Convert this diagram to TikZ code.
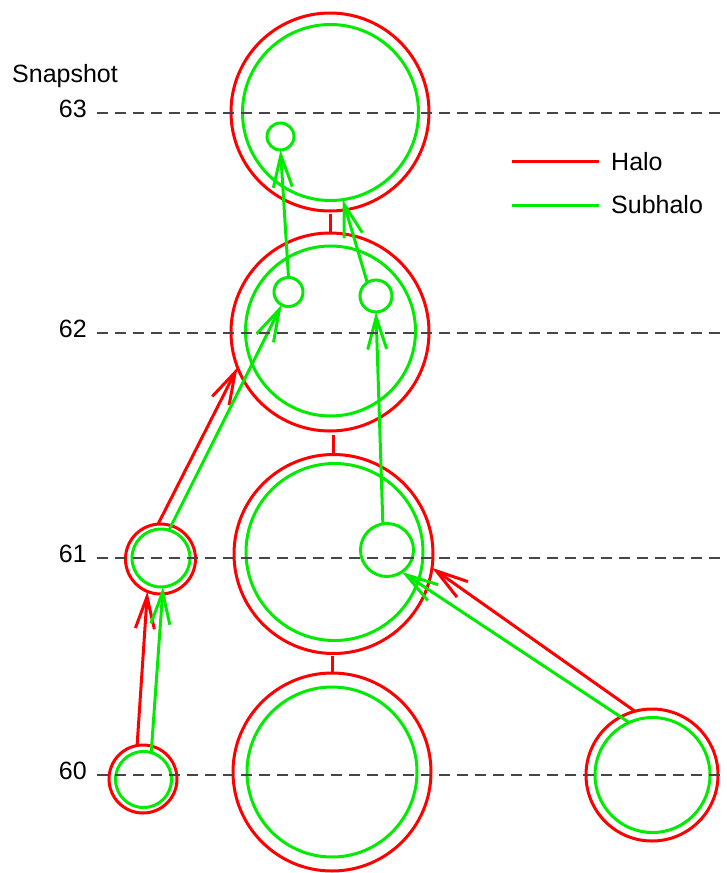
\documentclass[tikz,border=0pt]{standalone}
\usepackage{fontspec}
\setmainfont{Liberation Sans}
\usetikzlibrary{arrows.meta}
\definecolor{hred}{RGB}{255,0,0}
\definecolor{sgreen}{RGB}{0,235,0}
\definecolor{dashgray}{RGB}{70,70,70}
\begin{document}
\begin{tikzpicture}[x=1pt,y=-1pt,
  halo/.style={circle,draw=hred,line width=3pt,inner sep=0pt,outer sep=0pt,minimum size=#1},
  sub/.style={circle,draw=sgreen,line width=3pt,inner sep=0pt,outer sep=0pt,minimum size=#1},
  harrow/.style={draw=hred,line width=3pt,-{Straight Barb[length=32pt,width=19pt]}},
  sarrow/.style={draw=sgreen,line width=3pt,-{Straight Barb[length=32pt,width=19pt]}},
  tickline/.style={draw=hred,line width=3pt},
  snapline/.style={draw=dashgray,line width=2.2pt,dash pattern=on 11pt off 7pt},
  lbl/.style={font=\fontsize{25}{30}\selectfont,inner sep=0pt},
  hleg/.style={draw=hred,line width=3pt},
  sleg/.style={draw=sgreen,line width=3pt}]
\useasboundingbox (0,0) rectangle (726,873);

% snapshot 63
\node[halo=198] (m63r) at (330,112) {};
\node[sub=176] (m63g) at (330.5,112.5) {};
\node[sub=27] (s63) at (280.5,136.5) {};
% snapshot 62
\node[halo=198] (m62r) at (330,332) {};
\node[sub=170] (m62g) at (330.5,331) {};
\node[sub=29] (s62a) at (288.5,292) {};
\node[sub=32] (s62b) at (376,296) {};
% snapshot 61
\node[halo=199] (m61r) at (333.5,554) {};
\node[sub=177] (m61g) at (334.5,552) {};
\node[sub=53] (s61) at (387,550) {};
\node[halo=70] (l61r) at (160.5,559) {};
\node[sub=58] (l61g) at (161,558) {};
% snapshot 60
\node[halo=198] (m60r) at (332,772) {};
\node[sub=170] (m60g) at (332,772) {};
\node[halo=68] (l60r) at (143,779) {};
\node[sub=56] (l60g) at (143.5,779.5) {};
\node[halo=132] (r60r) at (652,775) {};
\node[sub=115] (r60g) at (652.5,775) {};

% descendant ticks
\draw[tickline] (m62r.north) -- ++(0,-19);
\draw[tickline] (m61r.north) -- ++(0,-20);
\draw[tickline] (m60r.north) -- ++(0,-17);

% arrows
\draw[harrow] (l60r.100) -- (l61r.248);
\draw[sarrow] (l60g.74) -- (l61g.274);
\draw[harrow] (l61r.94) -- (m62r.201);
\draw[sarrow] (l61g.74) -- (s62a.242);
\draw[sarrow] (s62a.90) -- (s63.270);
\draw[sarrow] (s62b.123) -- (m63g.278);
\draw[sarrow] (s61.99) -- (s62b.270);
\draw[harrow] (r60r.105) -- (m61r.352);
\draw[sarrow] (r60g.114) -- (s61.304);

% snapshot lines
\coordinate (d63a) at (97,113); \coordinate (d63b) at (726,113);
\coordinate (d62a) at (97,333); \coordinate (d62b) at (726,333);
\coordinate (d61a) at (97,558); \coordinate (d61b) at (726,558);
\coordinate (d60a) at (97,775); \coordinate (d60b) at (726,775);
\draw[snapline] (d63a) -- (d63b);
\draw[snapline] (d62a) -- (d62b);
\draw[snapline] (d61a) -- (d61b);
\draw[snapline] (d60a) -- (d60b);

% labels
\node[lbl,anchor=base west] (snap) at (12,82) {Snapshot};
\node[lbl,anchor=east] (t63) at (87,108.5) {63};
\node[lbl,anchor=east] (t62) at (87,329) {62};
\node[lbl,anchor=east] (t61) at (87,554) {61};
\node[lbl,anchor=east] (t60) at (87,771) {60};

% legend
\coordinate (lh1) at (512,161); \coordinate (lh2) at (599,161);
\coordinate (ls1) at (512,205); \coordinate (ls2) at (599,205);
\draw[hleg] (lh1) -- (lh2);
\draw[sleg] (ls1) -- (ls2);
\node[lbl,anchor=west] (lhalo) at (611,162) {Halo};
\node[lbl,anchor=west] (lsub) at (611,205) {Subhalo};
\end{tikzpicture}
\end{document}
